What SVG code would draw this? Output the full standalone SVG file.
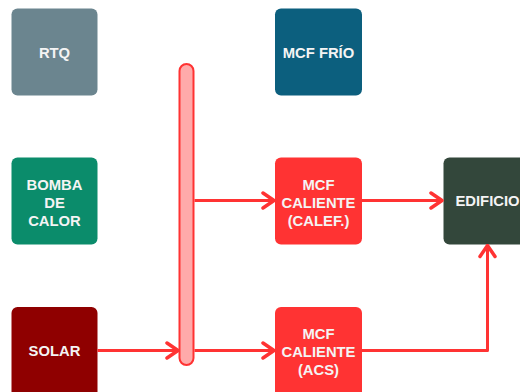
<svg xmlns="http://www.w3.org/2000/svg" width="520" height="392" viewBox="0 0 520 392">
  <style>
    .box { stroke: none; }
    .lbl { font-family: "Liberation Sans", Arial, sans-serif; font-weight: bold; font-size: 14.8px; fill: #f4f4f4; text-anchor: middle; }
    .flow { fill: none; stroke: #ff3333; stroke-width: 3; stroke-linejoin: round; }
  </style>
  <defs>
    <marker id="chev" viewBox="0 0 15 19" refX="13" refY="9.5" markerWidth="15" markerHeight="19" markerUnits="userSpaceOnUse" orient="auto">
      <path d="M2,2 L13,9.5 L2,17" fill="none" stroke="#ff3333" stroke-width="3.5" stroke-linecap="round" stroke-linejoin="round"/>
    </marker>
  </defs>
  <rect width="520" height="392" fill="#ffffff"/>

  <g id="rtq">
    <rect class="box" x="11.5" y="8.5" width="86" height="87" rx="6" fill="#6b858f"/>
    <text class="lbl" x="54.5" y="58">RTQ</text>
  </g>
  <g id="bomba-calor">
    <rect class="box" x="11.5" y="157.5" width="86" height="87" rx="6" fill="#0b8c6b"/>
    <text class="lbl" x="54.5" y="190">BOMBA</text>
    <text class="lbl" x="54.5" y="208">DE</text>
    <text class="lbl" x="54.5" y="226">CALOR</text>
  </g>
  <g id="solar">
    <rect class="box" x="11.5" y="307" width="86" height="92" rx="6" fill="#8f0000"/>
    <text class="lbl" x="54.5" y="356">SOLAR</text>
  </g>
  <g id="colector">
    <rect x="179.5" y="64" width="14" height="301" rx="7" fill="#ffaaaa" stroke="#ff3333" stroke-width="2"/>
  </g>
  <g id="mcf-frio">
    <rect class="box" x="275" y="8.5" width="87" height="87" rx="6" fill="#0c5f7e"/>
    <text class="lbl" x="318.5" y="58">MCF FRÍO</text>
  </g>
  <g id="mcf-calef">
    <rect class="box" x="275" y="157.5" width="87" height="87" rx="6" fill="#ff3333"/>
    <text class="lbl" x="318.5" y="190">MCF</text>
    <text class="lbl" x="318.5" y="208">CALIENTE</text>
    <text class="lbl" x="318.5" y="226">(CALEF.)</text>
  </g>
  <g id="mcf-acs">
    <rect class="box" x="275" y="307" width="87" height="92" rx="6" fill="#ff3333"/>
    <text class="lbl" x="318.5" y="339">MCF</text>
    <text class="lbl" x="318.5" y="357">CALIENTE</text>
    <text class="lbl" x="318.5" y="375">(ACS)</text>
  </g>
  <g id="edificio">
    <rect class="box" x="443.5" y="157.5" width="87" height="87" rx="6" fill="#33473b"/>
    <text class="lbl" x="487.5" y="206">EDIFICIO</text>
  </g>

  <g id="connectors">
    <path class="flow" d="M97.5,350.5 H178" marker-end="url(#chev)"/>
    <path class="flow" d="M194.5,200.5 H274" marker-end="url(#chev)"/>
    <path class="flow" d="M194.5,350.5 H274" marker-end="url(#chev)"/>
    <path class="flow" d="M362,200.5 H442" marker-end="url(#chev)"/>
    <path class="flow" d="M362,350.5 H487.5 V245.5" marker-end="url(#chev)"/>
  </g>
</svg>
